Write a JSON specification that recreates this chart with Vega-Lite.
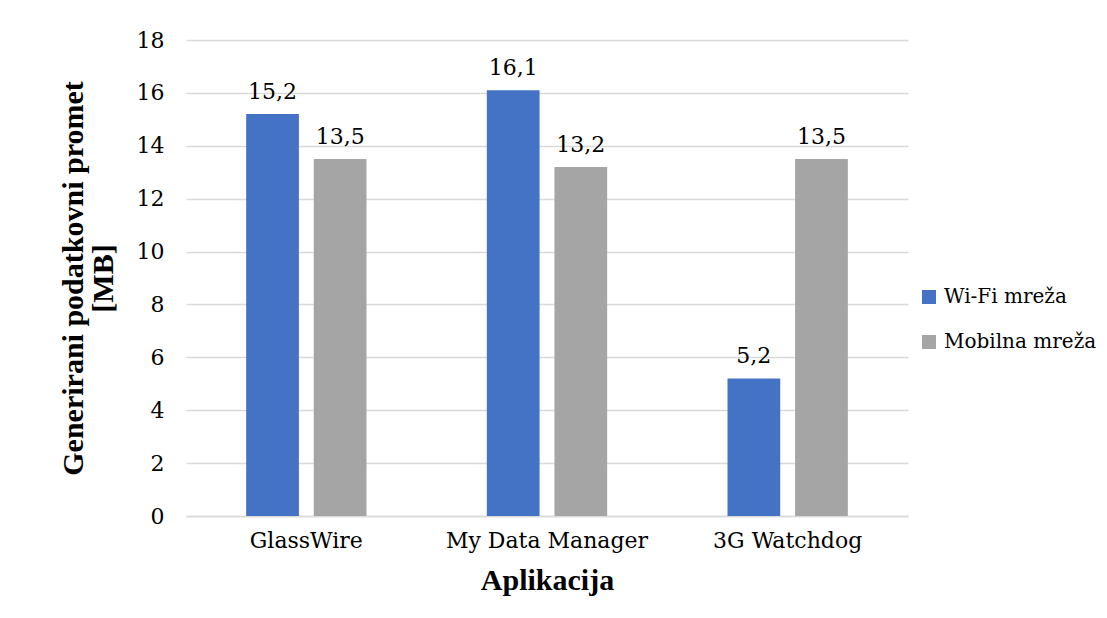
{
  "$schema": "https://vega.github.io/schema/vega-lite/v6.json",
  "width": 722,
  "height": 476,
  "autosize": {"type": "none"},
  "padding": {"left": 186, "top": 40, "right": 199, "bottom": 102},
  "background": "white",
  "config": {
    "font": "DejaVu Serif",
    "view": {"stroke": null},
    "locale": {"number": {"decimal": ",", "thousands": ".", "grouping": [3], "currency": ["", " €"]}}
  },
  "data": {
    "values": [
      {"app": "GlassWire", "network": "Wi-Fi mreža", "value": 15.2},
      {"app": "GlassWire", "network": "Mobilna mreža", "value": 13.5},
      {"app": "My Data Manager", "network": "Wi-Fi mreža", "value": 16.1},
      {"app": "My Data Manager", "network": "Mobilna mreža", "value": 13.2},
      {"app": "3G Watchdog", "network": "Wi-Fi mreža", "value": 5.2},
      {"app": "3G Watchdog", "network": "Mobilna mreža", "value": 13.5}
    ]
  },
  "encoding": {
    "x": {
      "field": "app",
      "type": "nominal",
      "sort": ["GlassWire", "My Data Manager", "3G Watchdog"],
      "scale": {"paddingInner": 0.5, "paddingOuter": 0.25},
      "axis": {
        "title": "Aplikacija",
        "titleFont": "Liberation Serif",
        "titleFontSize": 30,
        "titleFontWeight": "bold",
        "titleColor": "#000000",
        "titlePadding": 14,
        "labelAngle": 0,
        "labelFont": "DejaVu Serif",
        "labelFontSize": 22,
        "labelColor": "#000000",
        "labelPadding": 14,
        "labelLimit": 400,
        "ticks": false,
        "domainColor": "#D9D9D9",
        "domainWidth": 1.3
      }
    },
    "xOffset": {
      "field": "network",
      "type": "nominal",
      "sort": ["Wi-Fi mreža", "Mobilna mreža"],
      "scale": {"paddingInner": 0.22, "paddingOuter": 0}
    }
  },
  "layer": [
    {
      "mark": {"type": "bar"},
      "encoding": {
        "y": {
          "field": "value",
          "type": "quantitative",
          "scale": {"domain": [0, 18]},
          "axis": {
            "title": ["Generirani podatkovni promet", "[MB]"],
            "titleFont": "Liberation Serif",
            "titleFontSize": 30,
            "titleFontWeight": "bold",
            "titleColor": "#000000",
            "titleLineHeight": 30,
            "titlePadding": 18,
            "values": [0, 2, 4, 6, 8, 10, 12, 14, 16, 18],
            "labelFont": "DejaVu Serif",
            "labelFontSize": 22,
            "labelColor": "#000000",
            "labelPadding": 22,
            "ticks": false,
            "domain": false,
            "gridColor": "#D9D9D9",
            "gridWidth": 1.3
          }
        },
        "color": {
          "field": "network",
          "type": "nominal",
          "scale": {"domain": ["Wi-Fi mreža", "Mobilna mreža"], "range": ["#4472C4", "#A5A5A5"]},
          "legend": {
            "title": null,
            "orient": "none",
            "legendX": 733,
            "legendY": 247,
            "symbolType": "square",
            "symbolSize": 196,
            "symbolStrokeWidth": 0,
            "labelFont": "DejaVu Serif",
            "labelFontSize": 20,
            "labelColor": "#000000",
            "labelOffset": 5,
            "rowPadding": 25,
            "labelLimit": 300
          }
        }
      }
    },
    {
      "mark": {"type": "text", "font": "DejaVu Serif", "fontSize": 22, "color": "#000000", "baseline": "alphabetic", "dy": -15},
      "encoding": {
        "y": {"field": "value", "type": "quantitative"},
        "text": {"field": "value", "type": "quantitative", "format": ".1f"}
      }
    }
  ]
}
